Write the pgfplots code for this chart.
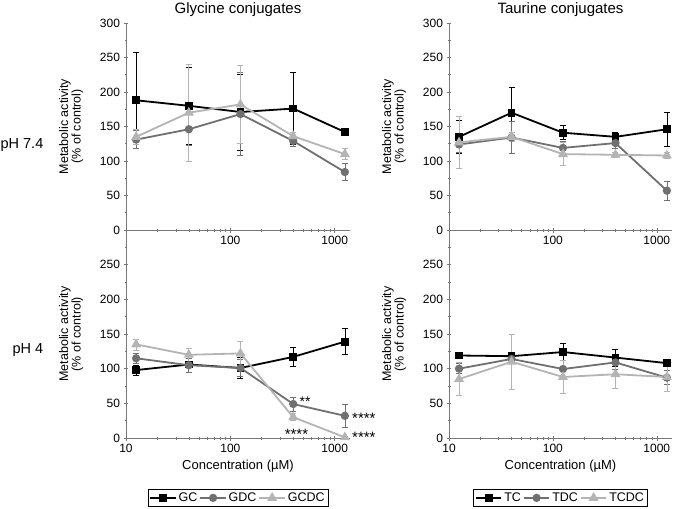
\documentclass[border=0pt]{standalone}
\usepackage{pgfplots}
\pgfplotsset{compat=1.18}
\usepackage{fontspec}
\setmainfont{Liberation Sans}

\definecolor{cA}{RGB}{0,0,0}
\definecolor{cB}{RGB}{112,112,112}
\definecolor{cC}{RGB}{180,180,180}
\definecolor{axgray}{RGB}{120,120,120}

\newcommand{\fs}[1]{\fontsize{#1bp}{#1bp}\selectfont}
\pgfkeys{/pgf/number format/assume math mode=true}

\pgfplotsset{every axis/.append style={
    scale only axis,
    xmode=log, xmin=10, xmax=1400, ymin=0, ymax=300,
    axis x line*=bottom, axis y line*=left,
    axis line style={axgray, line width=0.8bp},
    tick style={axgray, line width=0.6bp},
    major tick length=5bp, minor tick length=3bp,
    tick align=center,
    minor xtick={20,30,40,50,60,70,80,90,200,300,400,500,600,700,800,900},
    minor ytick={25,75,...,275},
    ticklabel style={font=\fs{12}, black},
    ylabel={Metabolic activity\\(\% of control)},
    ylabel style={align=center, font=\fs{12.5}, yshift=10bp},
    xlabel style={font=\fs{13}, yshift=-1bp},
    title style={font=\fs{15}, yshift=-3bp},
    legend style={at={(0.5,-0.245)}, anchor=north, legend columns=-1,
      draw=black, line width=0.6bp, font=\fs{12.5}, inner sep=1.5bp},
    clip=false,
  },
  every axis plot/.append style={line width=1.8bp},
  legend image code/.code={
    \draw[mark repeat=2, mark phase=2] plot coordinates {(0cm,0cm)(0.45cm,0cm)(0.9cm,0cm)};},
}

\begin{document}
\begin{tikzpicture}
\useasboundingbox (0,0) rectangle (673bp,-509bp);

% Glycine, pH 7.4
\begin{axis}[at={(126bp,-230bp)}, anchor=south west, width=224bp, height=207bp,
  xtick={100,1000}, xticklabels={100,1000}, ytick={0,50,...,300},
  title={Glycine conjugates}]
\addplot[color=cA, mark=square*, mark size=3bp, mark options={solid,fill=cA},
  error bars/.cd, y dir=both, y explicit, error bar style={line width=0.7bp},
  error mark options={rotate=90, mark size=3bp, line width=0.7bp}] coordinates {
 (12.5,188) +- (0,70) (40,180) +- (0,56) (125,171) +- (0,55) (400,176) +- (0,52) (1250,142) +- (0,3)};
\addplot[color=cB, mark=*, mark size=3.2bp, mark options={solid,fill=cB},
  error bars/.cd, y dir=both, y explicit, error bar style={line width=0.7bp},
  error mark options={rotate=90, mark size=3bp, line width=0.7bp}] coordinates {
 (12.5,131) +- (0,13) (40,146) +- (0,24) (125,168) +- (0,60) (400,129) +- (0,8) (1250,84) +- (0,12)};
\addplot[color=cC, mark=triangle*, mark size=4bp, mark options={solid,fill=cC},
  error bars/.cd, y dir=both, y explicit, error bar style={line width=0.7bp},
  error mark options={rotate=90, mark size=3bp, line width=0.7bp}] coordinates {
 (12.5,135) +- (0,11) (40,170) +- (0,70) (125,182) +- (0,57) (400,136) +- (0,5) (1250,110) +- (0,8)};
\end{axis}

% Glycine, pH 4
\begin{axis}[at={(126bp,-438bp)}, anchor=south west, width=224bp, height=208bp,
  xtick={10,100,1000}, xticklabels={10,100,1000}, ytick={0,50,...,250},
  xlabel={Concentration (µM)}]
\addplot[color=cA, mark=square*, mark size=3bp, mark options={solid,fill=cA},
  error bars/.cd, y dir=both, y explicit, error bar style={line width=0.7bp},
  error mark options={rotate=90, mark size=3bp, line width=0.7bp}] coordinates {
 (12.5,98) +- (0,7) (40,106) +- (0,12) (125,101) +- (0,15) (400,117) +- (0,14) (1250,139) +- (0,19)};
\addplot[color=cB, mark=*, mark size=3.2bp, mark options={solid,fill=cB},
  error bars/.cd, y dir=both, y explicit, error bar style={line width=0.7bp},
  error mark options={rotate=90, mark size=3bp, line width=0.7bp}] coordinates {
 (12.5,115) +- (0,7) (40,105) +- (0,10) (125,101) +- (0,12) (400,49) +- (0,10) (1250,32) +- (0,16)};
\addplot[color=cC, mark=triangle*, mark size=4bp, mark options={solid,fill=cC},
  error bars/.cd, y dir=both, y explicit, error bar style={line width=0.7bp},
  error mark options={rotate=90, mark size=3bp, line width=0.7bp}] coordinates {
 (12.5,135) +- (0,8) (40,120) +- (0,9) (125,122) +- (0,17) (400,30) +- (0,5) (1250,1) +- (0,2)};
\legend{GC,GDC,GCDC}
\node[font=\fs{14}] at (axis cs:520,53) {**};
\node[font=\fs{15}] at (axis cs:430,6) {****};
\node[font=\fs{15}] at (axis cs:1900,28) {****};
\node[font=\fs{15}] at (axis cs:1900,1) {****};
\end{axis}

% Taurine, pH 7.4
\begin{axis}[at={(449bp,-230bp)}, anchor=south west, width=223bp, height=207bp,
  xtick={100,1000}, xticklabels={100,1000}, ytick={0,50,...,300},
  title={Taurine conjugates}]
\addplot[color=cA, mark=square*, mark size=3bp, mark options={solid,fill=cA},
  error bars/.cd, y dir=both, y explicit, error bar style={line width=0.7bp},
  error mark options={rotate=90, mark size=3bp, line width=0.7bp}] coordinates {
 (12.5,135) +- (0,24) (40,170) +- (0,37) (125,141) +- (0,10) (400,135) +- (0,7) (1250,146) +- (0,25)};
\addplot[color=cB, mark=*, mark size=3.2bp, mark options={solid,fill=cB},
  error bars/.cd, y dir=both, y explicit, error bar style={line width=0.7bp},
  error mark options={rotate=90, mark size=3bp, line width=0.7bp}] coordinates {
 (12.5,124) +- (0,12) (40,134) +- (0,23) (125,119) +- (0,10) (400,126) +- (0,8) (1250,57) +- (0,14)};
\addplot[color=cC, mark=triangle*, mark size=4bp, mark options={solid,fill=cC},
  error bars/.cd, y dir=both, y explicit, error bar style={line width=0.7bp},
  error mark options={rotate=90, mark size=3bp, line width=0.7bp}] coordinates {
 (12.5,127) +- (0,37) (40,135) +- (0,6) (125,110) +- (0,17) (400,109) +- (0,4) (1250,108) +- (0,4)};
\end{axis}

% Taurine, pH 4
\begin{axis}[at={(449bp,-438bp)}, anchor=south west, width=223bp, height=208bp,
  xtick={10,100,1000}, xticklabels={10,100,1000}, ytick={0,50,...,250},
  xlabel={Concentration (µM)}]
\addplot[color=cA, mark=square*, mark size=3bp, mark options={solid,fill=cA},
  error bars/.cd, y dir=both, y explicit, error bar style={line width=0.7bp},
  error mark options={rotate=90, mark size=3bp, line width=0.7bp}] coordinates {
 (12.5,119) +- (0,3) (40,118) +- (0,6) (125,124) +- (0,12) (400,116) +- (0,12) (1250,108) +- (0,5)};
\addplot[color=cB, mark=*, mark size=3.2bp, mark options={solid,fill=cB},
  error bars/.cd, y dir=both, y explicit, error bar style={line width=0.7bp},
  error mark options={rotate=90, mark size=3bp, line width=0.7bp}] coordinates {
 (12.5,100) +- (0,7) (40,114) +- (0,6) (125,99.5) +- (0,12) (400,109) +- (0,10) (1250,87) +- (0,10)};
\addplot[color=cC, mark=triangle*, mark size=4bp, mark options={solid,fill=cC},
  error bars/.cd, y dir=both, y explicit, error bar style={line width=0.7bp},
  error mark options={rotate=90, mark size=3bp, line width=0.7bp}] coordinates {
 (12.5,85) +- (0,24) (40,110) +- (0,40) (125,88) +- (0,24) (400,92) +- (0,20) (1250,88) +- (0,21)};
\legend{TC,TDC,TCDC}
\end{axis}

\node[font=\fs{14.5}] at (22bp,-145bp) {pH 7.4};
\node[font=\fs{14.5}] at (28bp,-350bp) {pH 4};
\end{tikzpicture}
\end{document}
